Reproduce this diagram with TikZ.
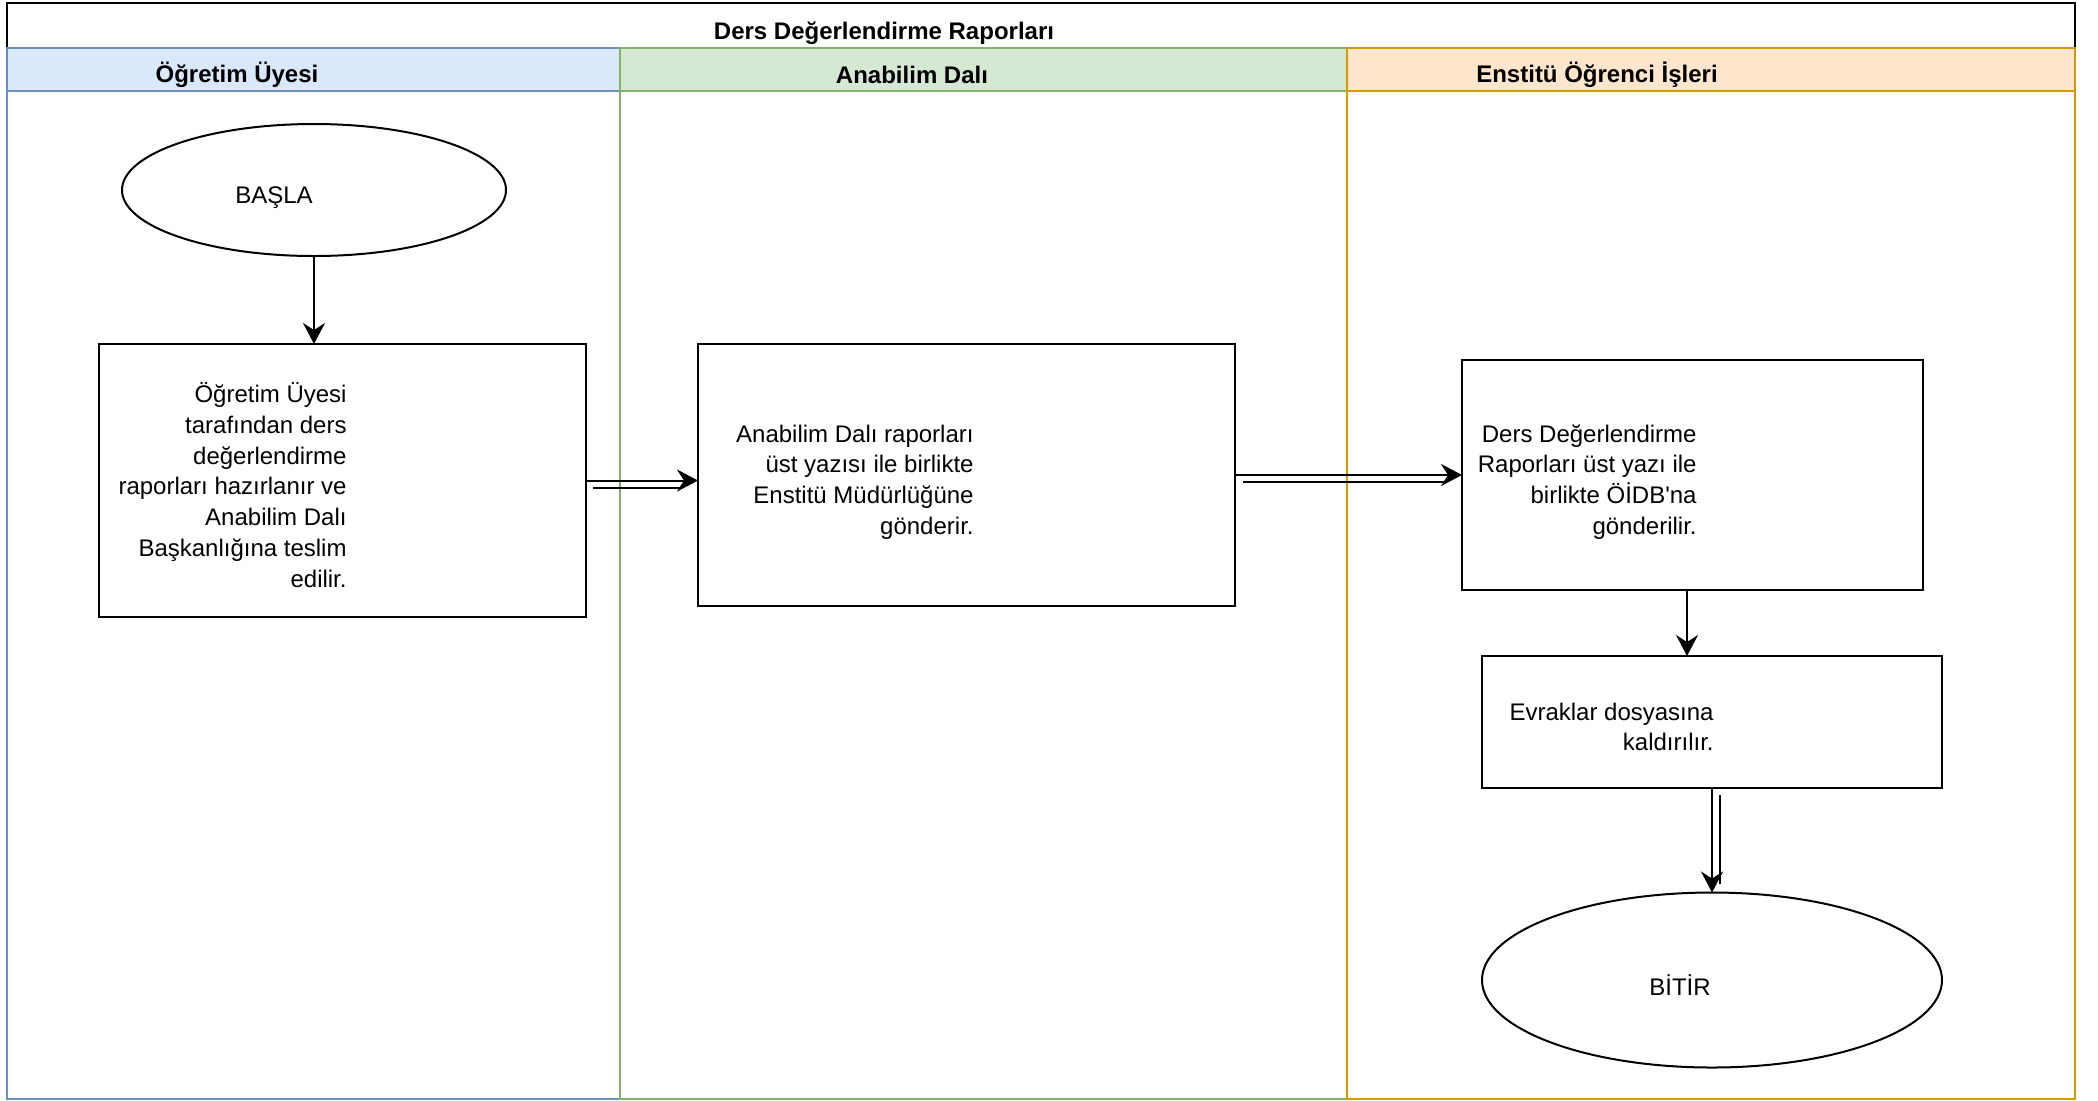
\documentclass[tikz,border=0pt]{standalone}
\usepackage{fontspec}
\setmainfont{Liberation Sans}
\usetikzlibrary{arrows.meta,shapes.geometric}

\definecolor{laneAline}{HTML}{6C8EBF}
\definecolor{laneAfill}{HTML}{DAE8FC}
\definecolor{laneBline}{HTML}{82B366}
\definecolor{laneBfill}{HTML}{D5E8D4}
\definecolor{laneCline}{HTML}{D79B00}
\definecolor{laneCfill}{HTML}{FFE6CC}

% straight apostrophe glyph, bypassing the TeX quote mapping
\newcommand{\straightquote}{\XeTeXglyph\XeTeXcharglyph"27\relax}

\tikzset{
  body/.style={font=\fontsize{12pt}{15.4pt}\selectfont},
  headtext/.style={font=\bfseries\fontsize{12pt}{14pt}\selectfont, inner sep=0pt},
  stepbox/.style={draw, line width=1pt, rectangle, inner sep=0pt, outer sep=0pt},
  terminal/.style={draw, line width=1pt, ellipse, inner sep=0pt, outer sep=0pt},
  boxtext/.style={body, align=right, inner sep=0pt, anchor=east},
  flow/.style={line width=1pt, -{Stealth[length=10.5pt, width=11pt, inset=3.5pt]}},
  twin/.style={line width=1pt},
}

\begin{document}
\begin{tikzpicture}[x=0.5pt, y=-0.5pt]
\useasboundingbox (0,0) rectangle (2098,1100);

% pool frame and title
\draw[line width=1pt] (7,3) rectangle (2075,1099);
\node[headtext] (title) at (884,33) {Ders Değerlendirme Raporları};

% lane 1
\draw[laneAline, fill=laneAfill, line width=1pt] (7,48) rectangle (620,91);
\draw[laneAline, line width=1pt] (7,91) rectangle (620,1099);
\node[headtext] (laneA) at (237,75) {Öğretim Üyesi};

% lane 2
\draw[laneBline, fill=laneBfill, line width=1pt] (620,48) rectangle (1347,91);
\draw[laneBline, line width=1pt] (620,91) rectangle (1347,1099);
\node[headtext] (laneB) at (912,75) {Anabilim Dalı};

% lane 3
\draw[laneCline, fill=laneCfill, line width=1pt] (1347,48) rectangle (2075,91);
\draw[laneCline, line width=1pt] (1347,91) rectangle (2075,1099);
\node[headtext] (laneC) at (1597,75) {Enstitü Öğrenci İşleri};

% flow elements
\node[terminal, minimum width=192pt, minimum height=66pt] (start) at (314,190) {};
\node[body, inner sep=0pt] (starttxt) at (274,198) {BAŞLA};

\node[stepbox, minimum width=243.5pt, minimum height=136.5pt] (box1) at (342.5,480.5) {};
\node[boxtext] (box1txt) at (347,485) {Öğretim Üyesi\\tarafından ders\\değerlendirme\\raporları hazırlanır ve\\Anabilim Dalı\\Başkanlığına teslim\\edilir.};

\node[stepbox, minimum width=268.5pt, minimum height=131pt] (box2) at (966.5,475) {};
\node[boxtext] (box2txt) at (974,482) {Anabilim Dalı raporları\\üst yazısı ile birlikte\\Enstitü Müdürlüğüne\\gönderir.};

\node[stepbox, minimum width=230.5pt, minimum height=115pt] (box3) at (1692.5,475) {};
\node[boxtext] (box3txt) at (1697,482) {Ders Değerlendirme\\Raporları üst yazı ile\\birlikte ÖİDB\straightquote na\\gönderilir.};

\node[stepbox, minimum width=230pt, minimum height=66pt] (box4) at (1712,722) {};
\node[boxtext] (box4txt) at (1714,727) {Evraklar dosyasına\\kaldırılır.};

\node[terminal, minimum width=230pt, minimum height=87.5pt] (finish) at (1712,980) {};
\node[body, inner sep=0pt] (finishtxt) at (1680,985) {BİTİR};

% connectors
\draw[flow] (start.south) -- (start.south |- box1.north);

\draw[flow] (box1.east) -- (box1.east -| box2.west);
\draw[twin] ([shift={(7,7)}]box1.east) -- ([shift={(-16,7)}]box1.east -| box2.west);

\draw[flow] (box2.east) -- (box3.west);
\draw[twin] ([shift={(8,7)}]box2.east) -- ([shift={(-15,7)}]box3.west);

\draw[flow] ([shift={(-5.5,0)}]box3.south) -- ([shift={(-5.5,0)}]box3.south |- box4.north);

\draw[flow] (box4.south) -- (finish.north);
\draw[twin] ([shift={(8,7)}]box4.south) -- ([shift={(8,-9)}]finish.north);
\end{tikzpicture}
\end{document}
